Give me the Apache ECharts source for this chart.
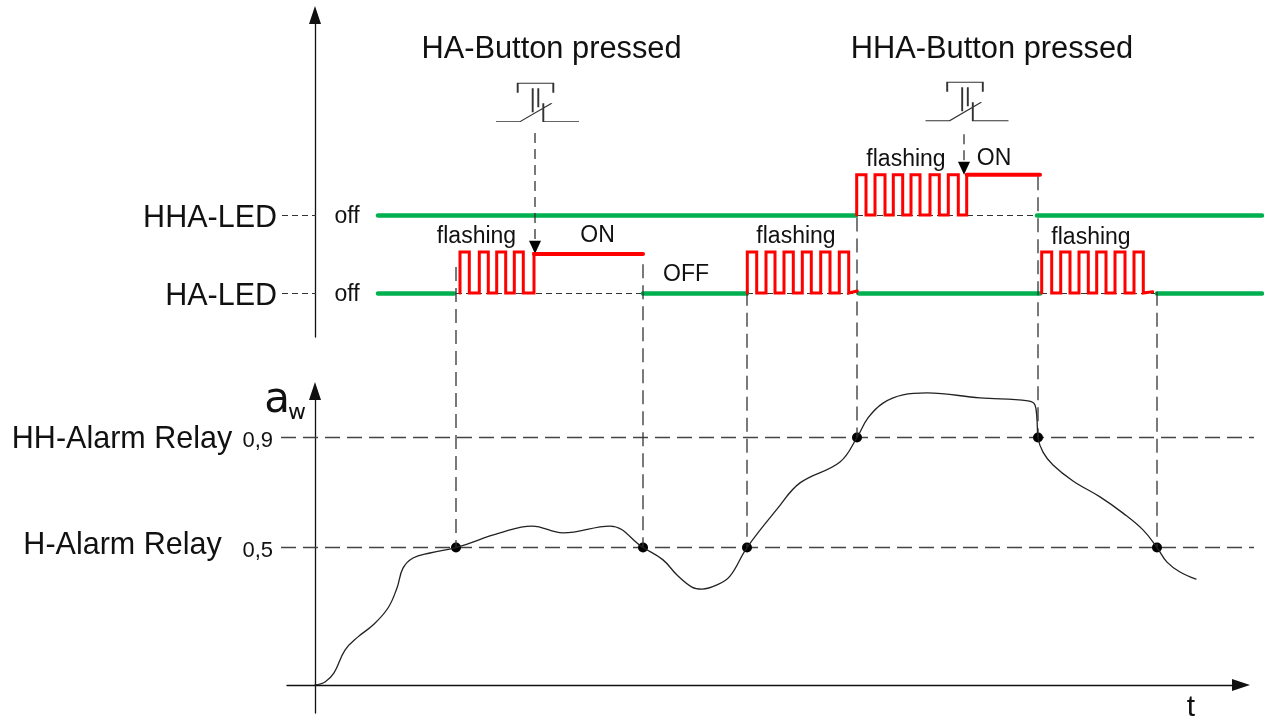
<!DOCTYPE html>
<html>
<head>
<meta charset="utf-8">
<style>html,body{margin:0;padding:0;background:#fff}#c{width:1264px;height:717px}</style>
<script src="https://cdn.jsdelivr.net/npm/echarts@6/dist/echarts.min.js"></script>
</head>
<body>
<div id="c"></div>
<script>
// --- Analog signal a_w over time t ---
const signalT = [0,10,19,30,43,58,73,82,88,98,115,141,185,217,248,295,328,348,362,377,387,402,415,432,463,485,525,542,553,568,588,612,665,713,720,722,723,728,738,758,785,808,828,842,852,865,881];
const signalA = [0,.011,.044,.127,.175,.218,.28,.353,.425,.462,.48,.5,.553,.578,.553,.578,.5,.455,.4,.356,.349,.364,.396,.5,.644,.735,.811,.9,.971,1.025,1.055,1.062,1.044,1.033,1.018,.964,.9,.847,.8,.742,.684,.625,.564,.5,.447,.411,.385];
const thresholds = [0.5, 0.9];
const thresholdLabels = ['0,5', '0,9'];
const crossT = [141, 328, 432, 542, 723, 842];
const crossA = [0.5, 0.5, 0.5, 0.9, 0.9, 0.5];
const dropTopA = [1.52, 1.53, 1.43, 1.70, 1.85, 1.43];

// --- LED levels: HA-LED off=0, on=1; HHA-LED off=2, on=3 ---
const ledLevels = [0, 2];
const ledLabels = ['HA-LED', 'HHA-LED'];
const greenHA = [[63,139],[328,432],[544,725],[842,947]];
const greenHHA = [[63,541],[722,947]];
const flashHA1 = [145,154.3,164.3,173.3,181.7,190.7,199.3,208.3,219];
const flashHA2 = [432.3,441.7,451,460,469,478.3,487.3,496.3,505.7,515,524.3,533.7];
const flashHHA = [541.7,551,560,570,578.3,587.7,596,605,615,624.3,633.3,643.3,651.7];
const flashHA3 = [726.7,736.7,745.7,755,764,773.3,781.7,791,800,810,819,828.3];
const onHA = [219, 328];
const onHHA = [651.7, 725];
const guideHA = [[141,328],[432,542],[726,842]];
const guideHHA = [[542,725]];
const tickDash = [[-33,1]];

// --- Button presses: [t, level] ---
const buttonGlyphs = [[222.5,4.885],[652,4.91]];
const buttonDrops = [[220,4.1,1.3],[649,4.07,3.36]];
const buttonArrows = [[220,1.17],[649,3.2]];

// --- Text ---
const titles = [[236.5,6.231,'HA-Button pressed'],[677,6.231,'HHA-Button pressed']];
const stateTexts = [[161.5,1.437,'flashing'],[481,1.437,'flashing'],[591,3.412,'flashing'],[776,1.412,'flashing'],
  [282.5,1.463,'ON'],[679,3.437,'ON'],[371,0.463,'OFF'],[32,1.95,'off'],[32,-0.05,'off']];
const relayTexts = [[-193,0.893,'HH-Alarm Relay'],[-192.5,0.506,'H-Alarm Relay']];

const FONT = '"Liberation Sans", Arial, sans-serif';
const SWITCH = 'path://M0 38.4H24L55.7 20M47.3 20V38.4H83M36.7 5V29M42.3 5V24M21.7 9.4V0H57.3V9.4';

const green = '#00b050', red = '#ff0000';
function wave(edges, low, high, endT, endLevel) {
  const pts = [[edges[0], low]];
  let lvl = high;
  edges.forEach(function (e, i) {
    pts.push([e, lvl]);
    if (i < edges.length - 1) { pts.push([edges[i + 1], lvl]); lvl = lvl === high ? low : high; }
  });
  if (endT !== undefined) pts.push([endT, endLevel]);
  return pts;
}
function lineSeries(grid, data, color, width, dash, extra) {
  return Object.assign({
    type: 'line', xAxisIndex: grid, yAxisIndex: grid, data: data, clip: false, symbol: 'none', silent: true,
    lineStyle: { color: color, width: width, type: dash || 'solid', join: 'miter', cap: dash ? 'butt' : 'round' }
  }, extra || {});
}
// straight segments that may run past the grid's left and right edges
function segSeries(grid, ranges, level, color, width, dash) {
  return {
    type: 'lines', coordinateSystem: 'cartesian2d', xAxisIndex: grid, yAxisIndex: grid, clip: false, silent: true,
    data: ranges.map(function (r) { return { coords: [[r[0], level], [r[1], level]] }; }),
    lineStyle: { color: color, width: width, type: dash || 'solid', opacity: 1, curveness: 0, cap: dash ? 'butt' : 'round' }
  };
}
function textSeries(grid, rows, size, family) {
  return {
    type: 'scatter', xAxisIndex: grid, yAxisIndex: grid, clip: false, symbolSize: 0, silent: true,
    itemStyle: { opacity: 1 },
    data: rows.map(function (r) { return { value: [r[0], r[1]], name: r[2] }; }),
    label: { show: true, position: 'inside', formatter: '{b}', fontFamily: family || FONT, fontSize: size, color: '#111' }
  };
}

const series = [];
// threshold lines & drop lines (lower grid)
thresholds.forEach(function (v) {
  series.push(segSeries(0, [[-34, 939]], v, '#444', 1.3, [15, 7]));
});
crossT.forEach(function (t, i) {
  series.push(lineSeries(0, [[t, dropTopA[i]], [t, crossA[i]]], '#333', 1.3, [14, 7]));
});
// LED axis dashes & baselines
ledLevels.forEach(function (l) {
  series.push(segSeries(1, tickDash, l, '#333', 1, [6, 4]));
});
series.push(segSeries(1, guideHA, 0, '#333', 1, [6, 4]));
series.push(segSeries(1, guideHHA, 2, '#333', 1, [6, 4]));
// button drop lines
buttonDrops.forEach(function (d) {
  series.push(lineSeries(1, [[d[0], d[1]], [d[0], d[2]]], '#333', 1.3, [10, 6]));
});
// LED traces
series.push(segSeries(1, greenHA, 0, green, 4.5));
series.push(segSeries(1, greenHHA, 2, green, 4.5));
series.push(lineSeries(1, wave(flashHA1, 0, 1.05, onHA[0], 1), red, 3, null));
series.push(lineSeries(1, wave(flashHA2, 0, 1.05, 542.3, 0.05), red, 3, null));
series.push(lineSeries(1, wave(flashHHA, 2, 3.03), red, 3, null));
series.push(lineSeries(1, wave(flashHA3, 0, 1.05, 837.7, 0.03), red, 3, null));
series.push(lineSeries(1, [[onHA[0], 1], [onHA[1], 1]], red, 4));
series.push(lineSeries(1, [[onHHA[0], 3.03], [onHHA[1], 3.03]], red, 4));
// button arrows and switch glyphs
series.push({
  type: 'scatter', xAxisIndex: 1, yAxisIndex: 1, clip: false, silent: true, symbol: 'triangle', symbolRotate: 180,
  symbolSize: [12, 13], itemStyle: { color: '#000', opacity: 1 }, data: buttonArrows
});
series.push({
  type: 'scatter', xAxisIndex: 1, yAxisIndex: 1, clip: false, silent: true, symbol: SWITCH,
  symbolSize: [83, 38.4], itemStyle: { color: 'none', borderColor: '#333', borderWidth: 1.3, opacity: 1 }, data: buttonGlyphs
});
// analog signal
series.push(lineSeries(0, signalT.map(function (t, i) { return [t, signalA[i]]; }), '#222', 1.3, null, { smooth: 0.4 }));
series.push({
  type: 'scatter', xAxisIndex: 0, yAxisIndex: 0, clip: false, silent: true, symbol: 'circle', symbolSize: 10,
  itemStyle: { color: '#000', opacity: 1 }, data: crossT.map(function (t, i) { return [t, crossA[i]]; })
});
// text
series.push(textSeries(1, titles, 30.8));
series.push(textSeries(1, stateTexts, 23));
series.push(textSeries(0, relayTexts, 30.5));
series.push(textSeries(0, [[876, -0.084, 't']], 30));
series.push(textSeries(0, [[-38, 1.033, 'a']], 42, '"DejaVu Sans"'));
series.push(textSeries(0, [[-18, 0.989, 'w']], 22, '"DejaVu Sans"'));

function xAx(grid, show) {
  return {
    type: 'value', gridIndex: grid, min: -28, max: 926, show: show, splitLine: { show: false },
    axisTick: { show: false }, axisLabel: { show: false },
    axisLine: { show: show, symbol: ['none', 'triangle'], symbolSize: [12, 18], lineStyle: { color: '#111', width: 1.3 } }
  };
}
function yAx(grid, min, max, values, labels, margin, size, pad) {
  return {
    type: 'value', gridIndex: grid, min: min, max: max, splitLine: { show: false }, axisTick: { show: false },
    axisLine: { show: true, onZero: true, symbol: ['none', 'triangle'], symbolSize: [12, 18], lineStyle: { color: '#111', width: 1.3 } },
    axisLabel: {
      show: true, customValues: values, margin: margin,
      formatter: function (v) { return '{l|' + labels[values.indexOf(v)] + '}'; },
      rich: { l: { fontFamily: FONT, fontSize: size, color: '#111', padding: [pad, 0, 0, 0] } }
    }
  };
}

const chart = echarts.init(document.getElementById('c'), null, { renderer: 'canvas' });
chart.setOption({
  animation: false,
  backgroundColor: '#fff',
  grid: [
    { left: 287, right: 23, top: 391, height: 322 },
    { left: 287, right: 23, top: 15, height: 322 }
  ],
  xAxis: [xAx(0, true), xAx(1, false)],
  yAxis: [
    yAx(0, -0.1018, 1.0691, thresholds, thresholdLabels, 14, 22, 6),
    yAx(1, -1.128, 7.128, ledLevels, ledLabels, 10, 30.5, 7)
  ],
  series: series
});
</script>
</body>
</html>
